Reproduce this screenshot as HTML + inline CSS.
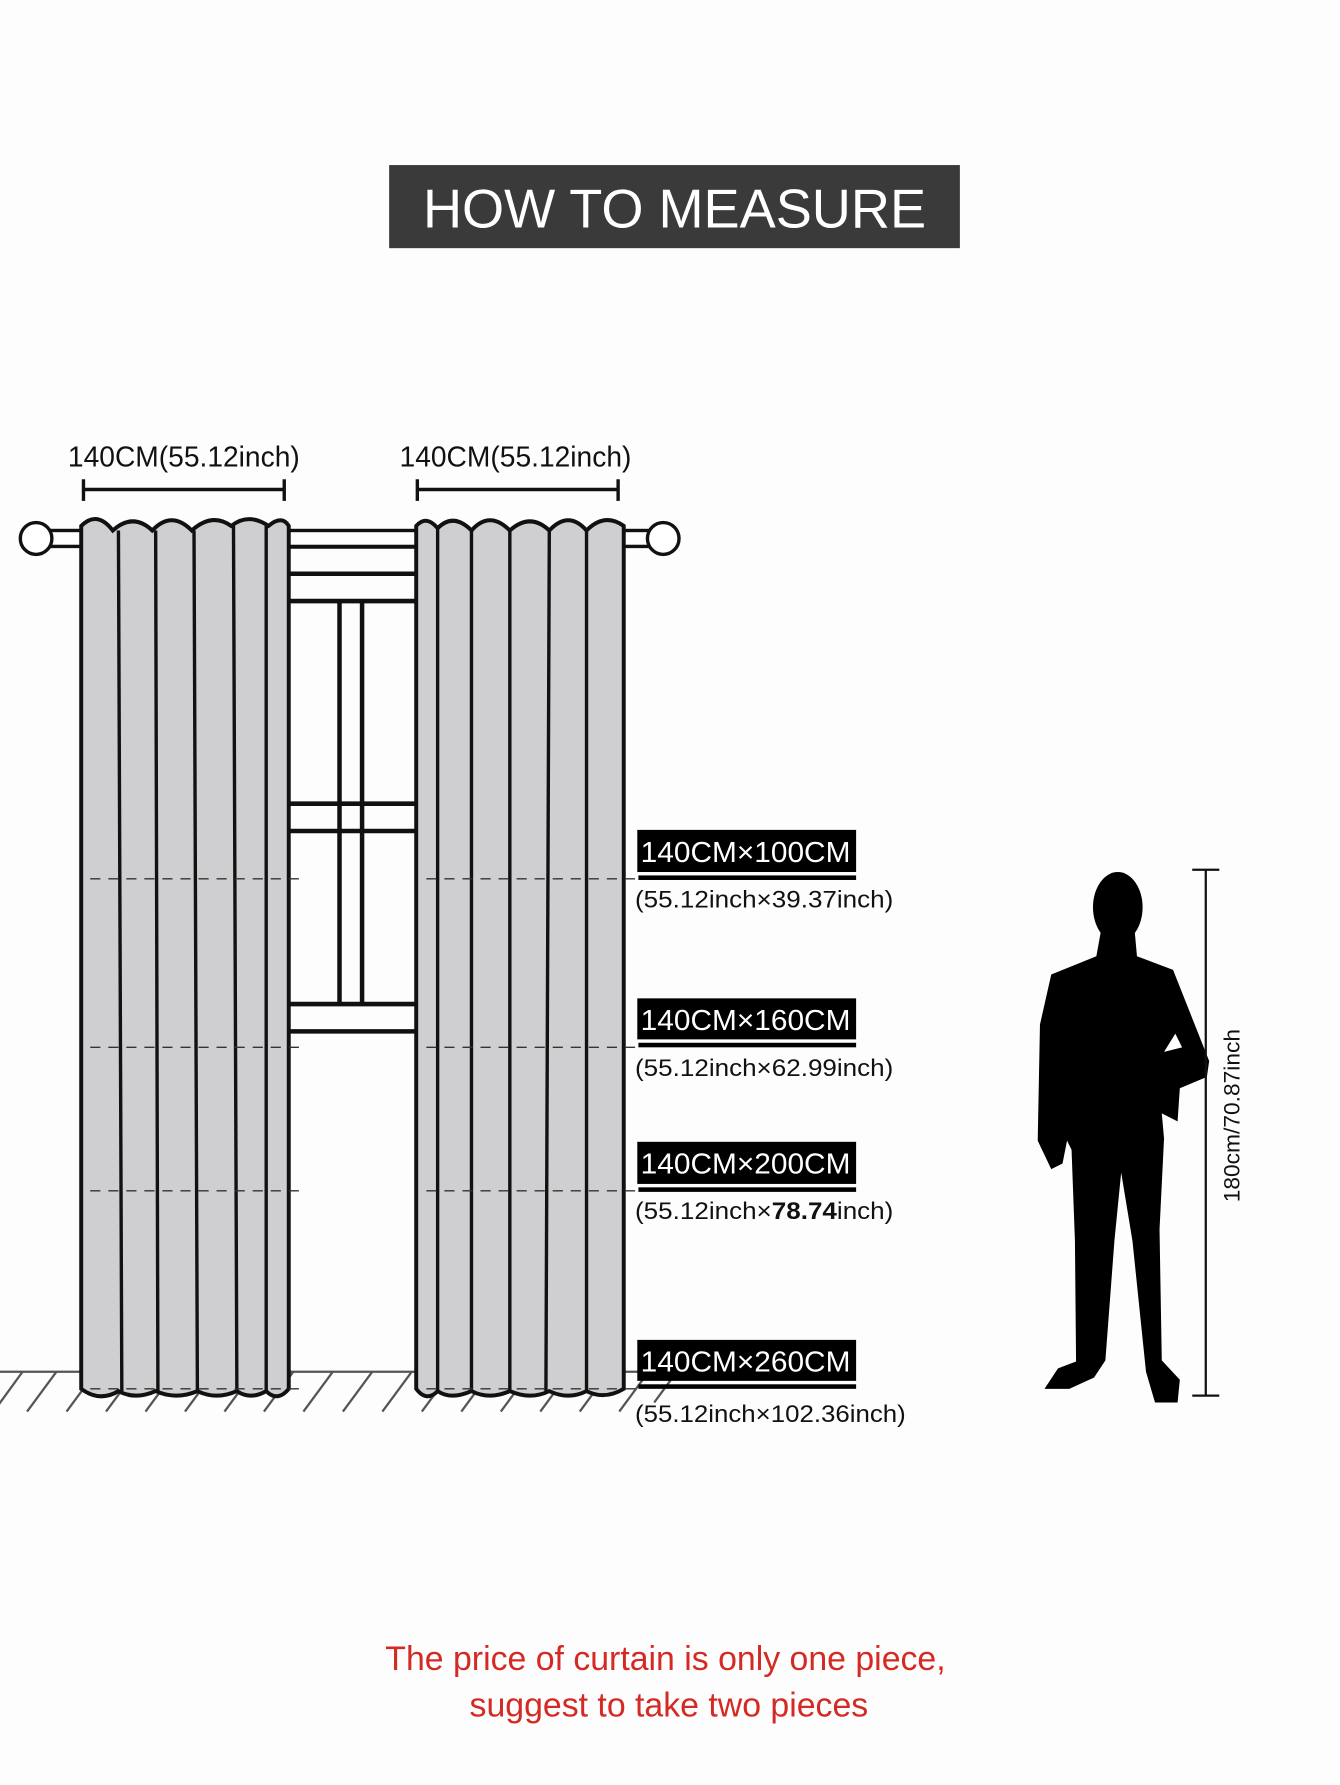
<!DOCTYPE html>
<html><head><meta charset="utf-8"><style>
html,body{margin:0;padding:0;background:#fdfdfd;}
svg{display:block;}
text{font-family:"Liberation Sans",sans-serif;}
</style></head><body>
<svg width="1340" height="1785" viewBox="0 0 1188 1568" preserveAspectRatio="none" xmlns="http://www.w3.org/2000/svg">
<rect width="1188" height="1568" fill="#fdfdfd"/>
<rect x="345" y="145" width="506" height="73" fill="#3a3a3a"/>
<text x="598" y="200" font-size="48" fill="#fff" text-anchor="middle" textLength="446" lengthAdjust="spacingAndGlyphs">HOW TO MEASURE</text>

<text x="163" y="410" font-size="25" fill="#111" text-anchor="middle">140CM(55.12inch)</text>
<text x="457" y="410" font-size="25" fill="#111" text-anchor="middle">140CM(55.12inch)</text>
<g stroke="#111" stroke-width="3">
<line x1="74" y1="430" x2="252" y2="430"/><line x1="74" y1="421" x2="74" y2="440"/><line x1="252" y1="421" x2="252" y2="440"/>
<line x1="370" y1="430" x2="548" y2="430"/><line x1="370" y1="421" x2="370" y2="440"/><line x1="548" y1="421" x2="548" y2="440"/>
</g>

<g stroke="#555" stroke-width="2">
<line x1="0" y1="1205" x2="600" y2="1205"/>
<path d="M20,1205 l-22,30 M50,1205 l-26,35 M85,1205 l-26,35 M120,1205 l-26,35 M155,1205 l-26,35 M190,1205 l-26,35 M225,1205 l-26,35 M260,1205 l-26,35 M295,1205 l-26,35 M330,1205 l-26,35 M365,1205 l-26,35 M400,1205 l-26,35 M435,1205 l-26,35 M470,1205 l-26,35 M505,1205 l-26,35 M540,1205 l-26,35 M575,1205 l-26,35 M600,1205 l-20,27"/>
</g>

<g stroke="#111" stroke-width="4" fill="none">
<line x1="256" y1="480" x2="369" y2="480"/>
<line x1="256" y1="504" x2="369" y2="504"/>
<line x1="256" y1="528" x2="369" y2="528"/>
<line x1="256" y1="706" x2="369" y2="706"/>
<line x1="256" y1="730" x2="369" y2="730"/>
<line x1="256" y1="882" x2="369" y2="882"/>
<line x1="256" y1="906" x2="369" y2="906"/>
<line x1="301" y1="528" x2="301" y2="882"/>
<line x1="321" y1="528" x2="321" y2="882"/>
</g>
<g stroke="#111" stroke-width="3" fill="#fff">
<rect x="40" y="466" width="540" height="14"/>
<circle cx="32" cy="473" r="14"/>
<circle cx="588" cy="473" r="14"/>
</g>

<g stroke="#111" stroke-width="3.5" fill="#cfcfd1">
<path d="M72,1220 L72,462 Q86,448 100,466 Q118,450 135,466 Q152,448 170,466 Q188,450 205,462 Q220,450 238,462 Q250,452 256,462 L256,1220 Q246,1232 236,1222 Q222,1230 210,1222 Q192,1230 175,1222 Q156,1230 138,1222 Q120,1230 105,1222 Q88,1232 72,1220 Z"/>
<path d="M369,1220 L369,462 Q378,452 388,464 Q402,450 418,466 Q434,448 452,466 Q470,450 487,466 Q504,448 520,466 Q536,450 553,462 L553,1220 Q536,1230 520,1222 Q504,1230 487,1222 Q470,1230 452,1222 Q434,1230 418,1222 Q400,1230 388,1222 Q378,1232 369,1220 Z"/>
</g>
<g stroke="#111" stroke-width="3">
<line x1="105" y1="466" x2="108" y2="1222"/><line x1="138" y1="466" x2="140" y2="1222"/><line x1="172" y1="466" x2="175" y2="1222"/><line x1="207" y1="462" x2="210" y2="1222"/><line x1="236" y1="462" x2="236" y2="1222"/>
<line x1="388" y1="464" x2="388" y2="1222"/><line x1="418" y1="466" x2="418" y2="1222"/><line x1="452" y1="466" x2="452" y2="1222"/><line x1="487" y1="466" x2="484" y2="1222"/><line x1="520" y1="466" x2="520" y2="1222"/>
</g>

<g stroke="#333" stroke-width="1.2" stroke-dasharray="9,7">
<line x1="80" y1="772" x2="268" y2="772"/><line x1="378" y1="772" x2="565" y2="772"/>
<line x1="80" y1="920" x2="268" y2="920"/><line x1="378" y1="920" x2="565" y2="920"/>
<line x1="80" y1="1046" x2="268" y2="1046"/><line x1="378" y1="1046" x2="565" y2="1046"/>
<line x1="80" y1="1220" x2="268" y2="1220"/><line x1="378" y1="1220" x2="565" y2="1220"/>
</g>

<g font-size="25" fill="#fff">
<rect x="565" y="729" width="194" height="37" fill="#000"/><rect x="566" y="769" width="193" height="4" fill="#000"/>
<text x="568" y="757" textLength="186" lengthAdjust="spacingAndGlyphs">140CM×100CM</text>
<rect x="565" y="877" width="194" height="36" fill="#000"/><rect x="566" y="916" width="193" height="4" fill="#000"/>
<text x="568" y="905" textLength="186" lengthAdjust="spacingAndGlyphs">140CM×160CM</text>
<rect x="565" y="1003" width="194" height="37" fill="#000"/><rect x="566" y="1043" width="193" height="4" fill="#000"/>
<text x="568" y="1031" textLength="186" lengthAdjust="spacingAndGlyphs">140CM×200CM</text>
<rect x="565" y="1177" width="194" height="36" fill="#000"/><rect x="566" y="1216" width="193" height="4" fill="#000"/>
<text x="568" y="1205" textLength="186" lengthAdjust="spacingAndGlyphs">140CM×260CM</text>
</g>
<g font-size="21" fill="#111">
<text x="563" y="797" textLength="229" lengthAdjust="spacingAndGlyphs">(55.12inch×39.37inch)</text>
<text x="563" y="945" textLength="229" lengthAdjust="spacingAndGlyphs">(55.12inch×62.99inch)</text>
<text x="563" y="1071" textLength="229" lengthAdjust="spacingAndGlyphs">(55.12inch×<tspan font-weight="bold">78.74</tspan>inch)</text>
<text x="563" y="1249" textLength="240" lengthAdjust="spacingAndGlyphs">(55.12inch×102.36inch)</text>
</g>

<g fill="#000">
<ellipse cx="991" cy="797" rx="22" ry="31"/>
<path d="M976,818 L1006,818 L1008,840 L1040,852 L1048,872 L1072,932 L1070,946 L1046,956 L1044,985 L1030,978 L1032,1000 L1028,1080 L1030,1195 L1046,1212 L1044,1232 L1024,1232 L1016,1205 L1004,1090 L994,1030 L988,1090 L980,1195 L970,1210 L948,1220 L926,1220 L938,1202 L954,1196 L953,1090 L950,1010 L946,1002 L942,1022 L932,1027 L920,1002 L922,900 L932,856 L972,840 Z"/>
</g>
<path d="M1032,924 L1042,908 L1048,920 Z" fill="#fff"/>

<g stroke="#111" stroke-width="2">
<line x1="1069" y1="764" x2="1069" y2="1226"/><line x1="1057" y1="764" x2="1081" y2="764"/><line x1="1057" y1="1226" x2="1081" y2="1226"/>
</g>
<text transform="translate(1099,980) rotate(-90)" font-size="20" fill="#111" text-anchor="middle">180cm/70.87inch</text>

<text x="590" y="1467" font-size="30" fill="#d42a24" text-anchor="middle">The price of curtain is only one piece,</text>
<text x="593" y="1508" font-size="30" fill="#d42a24" text-anchor="middle">suggest to take two pieces</text>
</svg>
</body></html>
